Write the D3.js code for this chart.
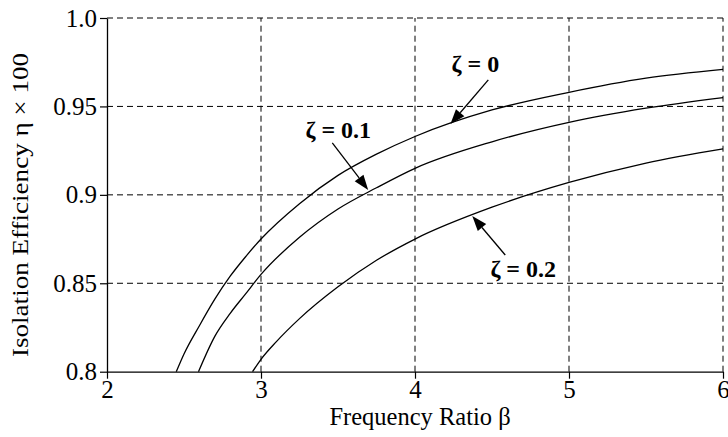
<!DOCTYPE html>
<html>
<head>
<meta charset="utf-8">
<script src="https://cdn.jsdelivr.net/npm/d3@7"></script>
<style>
  body { margin: 0; background: #fff; }
  text { font-family: "Liberation Serif", "Times New Roman", serif; fill: #000; }
</style>
</head>
<body>
<div id="chart"></div>
<script>
// values
var betaZ0  = [2.45, 2.5, 2.6, 2.7, 2.8, 2.9, 3.0, 3.25, 3.5, 3.75, 4.0, 4.5, 5.0, 5.5, 6.0];
var etaZ0   = [0.800, 0.810, 0.826, 0.841, 0.854, 0.865, 0.875, 0.895, 0.911, 0.923, 0.933, 0.948, 0.958, 0.966, 0.971];
var betaZ01 = [2.594, 2.7, 2.8, 2.9, 3.0, 3.25, 3.5, 3.75, 4.0, 4.5, 5.0, 5.5, 6.0];
var etaZ01  = [0.800, 0.820, 0.833, 0.844, 0.855, 0.876, 0.892, 0.904, 0.915, 0.930, 0.941, 0.949, 0.955];
var betaZ02 = [2.945, 3.0, 3.1, 3.25, 3.5, 3.75, 4.0, 4.5, 5.0, 5.5, 6.0];
var etaZ02  = [0.800, 0.807, 0.817, 0.830, 0.848, 0.863, 0.875, 0.893, 0.907, 0.918, 0.926];

var xTicks = [2, 3, 4, 5, 6];
var yTicks = [0.8, 0.85, 0.9, 0.95, 1.0];
var yTickLabels = ["0.8", "0.85", "0.9", "0.95", "1.0"];

// annotation label position, arrow tail and arrow tip (data units)
var annLabels = ["ζ = 0", "ζ = 0.1", "ζ = 0.2"];
var annText   = [[4.392, 0.9696], [3.502, 0.9323], [4.703, 0.8536]];
var annTail   = [[4.476, 0.9650], [3.463, 0.9294], [4.586, 0.8660]];
var annTip    = [[4.230, 0.9400], [3.696, 0.9028], [4.372, 0.8880]];

var margin = {top: 18, right: 5, bottom: 65, left: 107},
    width = 728 - margin.left - margin.right,
    height = 437 - margin.top - margin.bottom;

var svg = d3.select("#chart")
    .append("svg")
    .attr("width", 728)
    .attr("height", 437)
    .append("g")
    .attr("transform", "translate(" + margin.left + "," + margin.top + ")");

var x = d3.scaleLinear().domain([2, 6]).range([0, 616]);
var y = d3.scaleLinear().domain([0.8, 1.0]).range([height - 0.3, 0]);

// dashed grid
svg.append("g")
    .selectAll("line")
    .data(xTicks.slice(1))
    .enter().append("line")
    .attr("x1", function(d) { return x(d); })
    .attr("x2", function(d) { return x(d); })
    .attr("y1", y(0.8))
    .attr("y2", y(1.0))
    .attr("stroke", "#000")
    .attr("stroke-width", 1)
    .attr("stroke-dasharray", "6,4");
svg.append("g")
    .selectAll("line")
    .data(yTicks.slice(1))
    .enter().append("line")
    .attr("x1", x(2))
    .attr("x2", x(6))
    .attr("y1", function(d) { return y(d); })
    .attr("y2", function(d) { return y(d); })
    .attr("stroke", "#000")
    .attr("stroke-width", 1)
    .attr("stroke-dasharray", "6,4");

// axes
var xAxis = svg.append("g")
    .attr("transform", "translate(0," + y(0.8) + ")")
    .call(d3.axisBottom(x).tickValues(xTicks).tickFormat(d3.format("d")).tickSize(7).tickPadding(2).tickSizeOuter(0));
var yAxis = svg.append("g")
    .call(d3.axisLeft(y).tickValues(yTicks).tickFormat(function(d, i) { return yTickLabels[i]; }).tickSize(7).tickPadding(3).tickSizeOuter(0));
[xAxis, yAxis].forEach(function(a) {
    a.attr("font-size", 25).attr("font-family", "'Liberation Serif', 'Times New Roman', serif");
    a.select(".domain").attr("stroke", "#000").attr("stroke-width", 1.3);
    a.selectAll(".tick line").attr("stroke", "#000").attr("stroke-width", 1.2);
    a.selectAll("text")
        .style("font-size", "25px")
        .attr("fill", "#000");
});

// axis titles
svg.append("text")
    .attr("x", 420 - margin.left)
    .attr("y", 425 - margin.top)
    .attr("text-anchor", "middle")
    .style("font-size", "24.5px")
    .text("Frequency Ratio β");
svg.append("text")
    .attr("transform", "rotate(-90)")
    .attr("x", -(357 - margin.top))
    .attr("y", 28 - margin.left)
    .attr("text-anchor", "start")
    .attr("textLength", 304)
    .attr("lengthAdjust", "spacingAndGlyphs")
    .style("font-size", "23px")
    .text("Isolation Efficiency η × 100");

// curves
var line = d3.line()
    .x(function(d) { return x(d[0]); })
    .y(function(d) { return y(d[1]); })
    .curve(d3.curveMonotoneX);
[[betaZ0, etaZ0], [betaZ01, etaZ01], [betaZ02, etaZ02]].forEach(function(s) {
    svg.append("path")
        .datum(d3.zip(s[0], s[1]))
        .attr("fill", "none")
        .attr("stroke", "#000")
        .attr("stroke-width", 1.3)
        .attr("d", line);
});

// annotations with arrows
annLabels.forEach(function(lab, i) {
    svg.append("text")
        .attr("x", x(annText[i][0]))
        .attr("y", y(annText[i][1]))
        .attr("text-anchor", "middle")
        .style("font-size", "24px")
        .style("font-weight", "bold")
        .text(lab);

    var x0 = x(annTail[i][0]), y0 = y(annTail[i][1]),
        x1 = x(annTip[i][0]), y1 = y(annTip[i][1]);
    var ang = Math.atan2(y1 - y0, x1 - x0),
        hl = 15, hw = 5.5;
    var bx = x1 - hl * Math.cos(ang), by = y1 - hl * Math.sin(ang);
    svg.append("line")
        .attr("x1", x0).attr("y1", y0)
        .attr("x2", bx).attr("y2", by)
        .attr("stroke", "#000")
        .attr("stroke-width", 1.3);
    svg.append("polygon")
        .attr("points", [
            [x1, y1],
            [bx + hw * Math.sin(ang), by - hw * Math.cos(ang)],
            [bx - hw * Math.sin(ang), by + hw * Math.cos(ang)]
        ].map(function(p) { return p.join(","); }).join(" "))
        .attr("fill", "#000");
});
</script>
</body>
</html>
